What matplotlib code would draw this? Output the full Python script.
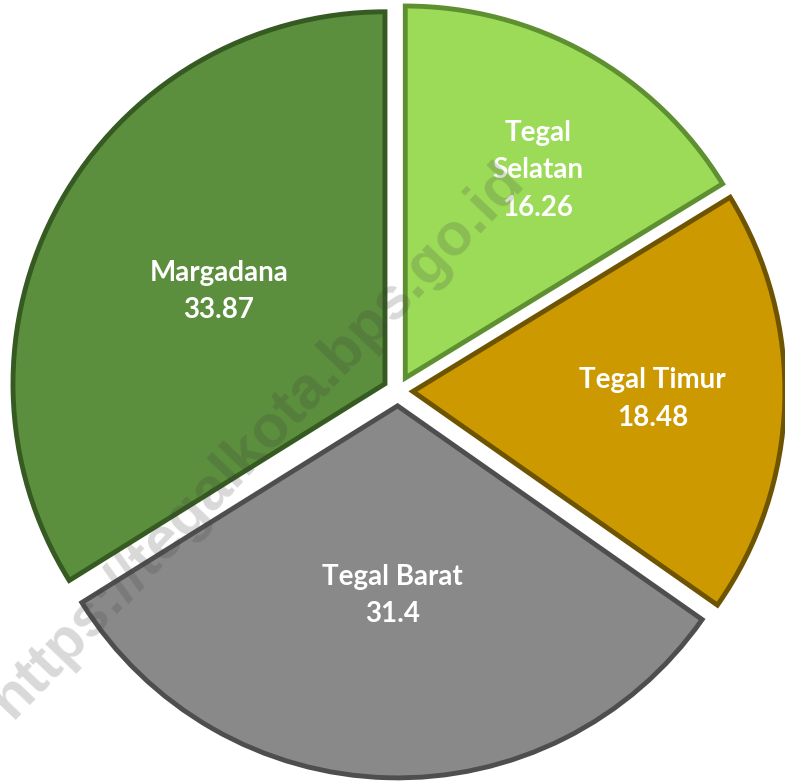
import matplotlib
matplotlib.use("Agg")
import matplotlib.pyplot as plt
import numpy as np

categories = ["Tegal\nSelatan", "Tegal Timur", "Tegal Barat", "Margadana"]
values = [16.26, 18.48, 31.4, 33.87]
value_labels = ["16.26", "18.48", "31.4", "33.87"]
colors = ["#9BDB58", "#CC9900", "#898989", "#5B8E3D"]
edge_colors = ["#5E8F30", "#6E5300", "#4E4E4E", "#355A22"]

W, H = 785, 782
fig = plt.figure(figsize=(W / 100, H / 100), dpi=100)
ax = fig.add_axes([0, 0, 1, 1])

R_px = 372.0
cx, cy = 398.0, 391.0

explode = [0.04] * 4
wedges, _ = ax.pie(values, colors=colors, startangle=90, counterclock=False,
                   explode=explode, radius=1.0,
                   wedgeprops=dict(linewidth=3.5, joinstyle="miter"),
                   center=(0, 0), frame=True)
ax.set_xlim(-cx / R_px, (W - cx) / R_px)
ax.set_ylim(-(H - cy) / R_px, cy / R_px)
ax.set_aspect("auto")
ax.axis("off")
for w, ec in zip(wedges, edge_colors):
    w.set_edgecolor(ec)

label_dist = [0.663, 0.645, 0.51, 0.51]
label_turn = [-3.3, 0.0, 0.0, 0.0]
for w, cat, val, d, t in zip(wedges, categories, value_labels, label_dist, label_turn):
    ang = np.deg2rad((w.theta1 + w.theta2) / 2 + t)
    x = w.center[0] + d * np.cos(ang)
    y = w.center[1] + d * np.sin(ang)
    ax.text(x, y, f"{cat}\n{val}", ha="center", va="center", color="white",
            fontsize=20, fontweight="bold", family=["Lato", "DejaVu Sans"],
            linespacing=1.55, zorder=5)

fig.text(258 / W, 1 - 440 / H, "https://tegalkota.bps.go.id", rotation=46.3,
         ha="center", va="center", fontsize=43, fontweight="bold",
         color="#404040", alpha=0.2, family=["Liberation Sans", "DejaVu Sans"],
         rotation_mode="anchor", zorder=10)

fig.savefig("out.png", dpi=100, facecolor="white")
